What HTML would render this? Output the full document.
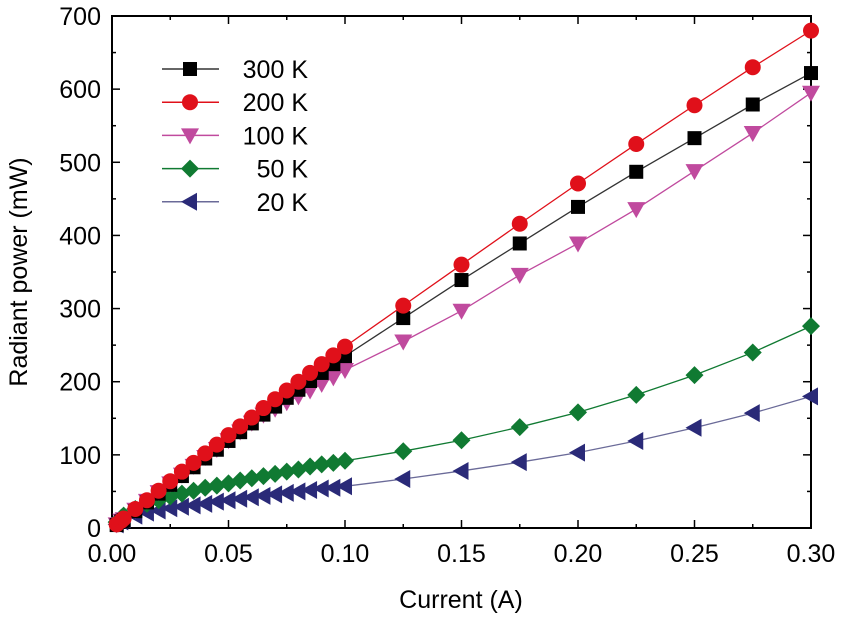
<!DOCTYPE html>
<html><head><meta charset="utf-8"><style>
body{margin:0;background:#fff}
svg{font-family:"Liberation Sans",Arial,sans-serif}
</style></head><body>
<svg id="c" width="841" height="615"></svg>
<script>
const currents=[0.002,0.004,0.005,0.01,0.015,0.02,0.025,0.03,0.035,0.04,0.045,0.05,0.055,0.06,0.065,0.07,0.075,0.08,0.085,0.09,0.095,0.1,0.125,0.15,0.175,0.2,0.225,0.25,0.275,0.3];
const p300=[4,9,11,23,35,47,59,71,83,95,107,119,131,143,155,166,178,189,201,212,224,235,287,339,389,439,487,533,579,622];
const p200=[5,10,13,26,38,51,64,77,89,102,114,127,139,151,164,176,188,200,212,224,236,248,304,360,416,471,525,578,630,680];
const p100=[5,10,12,25,37,49,61,73,85,97,108,120,132,144,155,163,172,180,188,197,206,216,255,297,346,389,436,488,540,595];
const p50=[8,14,17,26,33,38,43,47,51,55,58,61,65,68,71,74,77,80,84,87,89,92,105,120,138,158,182,209,240,276];
const p20=[5,9,12,17,21,24,27,29,31,33,36,38,40,42,44,46,48,50,52,54,55,57,67,78,90,103,119,137,157,180];
const xTicks=[0,0.05,0.1,0.15,0.2,0.25,0.3];
const xTickLabels=["0.00","0.05","0.10","0.15","0.20","0.25","0.30"];
const yTicks=[0,100,200,300,400,500,600,700];
const seriesNames=["300 K","200 K","100 K","50 K","20 K"];

const NS="http://www.w3.org/2000/svg";
const svg=document.getElementById('c');
const L=112,R=811,T=16,B=528;
const xs=v=>L+(v/0.3)*(R-L);
const ys=v=>B-(v/700)*(B-T);
function el(t,a,p){const e=document.createElementNS(NS,t);for(const k in a)e.setAttribute(k,a[k]);(p||svg).appendChild(e);return e;}

const frame=el('rect',{x:L,y:T,width:R-L,height:B-T,fill:'none',stroke:'#000','stroke-width':2});



for(let i=0;i<=12;i++){const v=i*0.025;const x=xs(v);const maj=i%2==0;
 el('line',{x1:x,y1:B,x2:x,y2:B-(maj?8:4),stroke:'#000','stroke-width':1.5});
 el('line',{x1:x,y1:T,x2:x,y2:T+(maj?8:4),stroke:'#000','stroke-width':1.5});}
xTicks.forEach((v,i)=>{const t=el('text',{x:xs(v),y:562,'font-size':25,'text-anchor':'middle'});t.textContent=xTickLabels[i];
 
 });
for(let v=0;v<=700;v+=50){const y=ys(v);const maj=v%100==0;
 el('line',{x1:L,y1:y,x2:L+(maj?8:4),y2:y,stroke:'#000','stroke-width':1.5});
 el('line',{x1:R,y1:y,x2:R-(maj?8:4),y2:y,stroke:'#000','stroke-width':1.5});}
yTicks.forEach(v=>{const t=el('text',{x:101,y:ys(v)+9,'font-size':25,'text-anchor':'end'});t.textContent=v;
 
 });
const xt=el('text',{x:461,y:608,'font-size':25,'text-anchor':'middle'});xt.textContent='Current (A)';


const yt=el('text',{x:0,y:0,'font-size':25,'text-anchor':'middle',transform:'translate(27,272) rotate(-90)'});yt.textContent='Radiant power (mW)';



function marker(type,x,y,color,g){
 const s=8;
 if(type=='sq')return el('rect',{x:x-7,y:y-7,width:14,height:14,fill:color},g);
 if(type=='ci')return el('circle',{cx:x,cy:y,r:s,fill:color},g);
 if(type=='dn')return el('polygon',{points:`${x-9},${y-7} ${x+9},${y-7} ${x},${y+9}`,fill:color},g);
 if(type=='di')return el('polygon',{points:`${x},${y-9} ${x+9},${y} ${x},${y+9} ${x-9},${y}`,fill:color},g);
 if(type=='le')return el('polygon',{points:`${x-9},${y} ${x+7},${y-9} ${x+7},${y+9}`,fill:color},g);
}
const series=[[p20,'#2a2a78','le','#6a6a98','series-20k'],[p50,'#107a32','di','#107a32','series-50k'],[p100,'#c04a9e','dn','#c04a9e','series-100k'],[p300,'#000','sq','#333','series-300k'],[p200,'#e0101a','ci','#e0101a','series-200k']];
series.forEach(([d,c,m,lc,name])=>{
 const g=el('g',{});
 
 
 el('polyline',{points:d.map((v,i)=>xs(currents[i])+','+ys(v)).join(' '),fill:'none',stroke:lc,'stroke-width':1.3},g);
 d.forEach((v,i)=>{const mk=marker(m,xs(currents[i]),ys(v),c,g);
  
  });
});
const leg=[['#000','sq','#333'],['#e0101a','ci','#e0101a'],['#c04a9e','dn','#c04a9e'],['#107a32','di','#107a32'],['#2a2a78','le','#6a6a98']];
const lg=el('g',{});


leg.forEach(([c,m,lc],i)=>{const y=69+i*33.2;
 const eg=el('g',{},lg);
 
 
 el('line',{x1:162,y1:y,x2:219,y2:y,stroke:lc,'stroke-width':1.5},eg);
 marker(m,190,y,c,eg);
 const t=el('text',{x:308,y:y+9,'font-size':25,'text-anchor':'end'},eg);t.textContent=seriesNames[i];});
</script>
</body></html>
